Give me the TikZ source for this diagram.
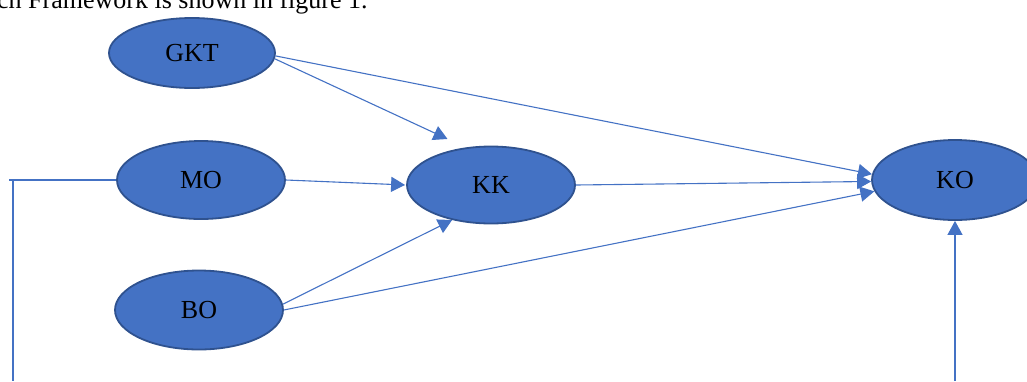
\documentclass[tikz,border=0pt]{standalone}
\usepackage{fontspec}
\setmainfont{Liberation Serif}
\usetikzlibrary{shapes.geometric,arrows.meta}
\definecolor{fillblue}{HTML}{4472C4}
\definecolor{edgeblue}{HTML}{2F528F}
\definecolor{lineblue}{HTML}{4472C4}
\begin{document}
\begin{tikzpicture}[x=1pt,y=-1pt,
  oval/.style={ellipse, fill=fillblue, draw=edgeblue, line width=1.8pt, inner sep=0pt,
    font=\fontsize{26}{30}\selectfont},
  conn/.style={draw=lineblue, line width=1.1pt},
  arr/.style={conn, -{Triangle[length=14pt,width=15pt]}}]
\useasboundingbox (0,0) rectangle (1027,381);
\begin{scope}
\clip (0,0) rectangle (1027,381);
\node[anchor=base west, inner sep=0pt, font=\fontsize{26}{30}\selectfont] (cap) at (-3,8) {ch Framework is shown in figure 1.};
\node[oval, minimum width=166pt, minimum height=70pt] (GKT) at (192,53) {GKT};
\node[oval, minimum width=168pt, minimum height=78pt] (MO) at (201,180) {MO};
\node[oval, minimum width=168pt, minimum height=77pt] (KK) at (491,185) {KK};
\node[oval, minimum width=166pt, minimum height=80pt] (KO) at (955,180) {KO};
\node[oval, minimum width=168pt, minimum height=79pt] (BO) at (199,310) {BO};
\coordinate (lft) at (9,180);
\coordinate (vtop) at (13,181);
\coordinate (vbot) at (13,381);
\coordinate (kob) at (955,381);
\end{scope}
\draw[arr, shorten >=20pt] (GKT.-4) -- (KK.124);
\draw[arr] (GKT.-2) -- (KO.176);
\draw[arr, shorten >=1pt] (MO.east) -- (KK.west);
\draw[arr] (KK.east) -- (KO.181);
\draw[arr] (BO.4) -- (KK.-138);
\draw[arr] (BO.0) -- (KO.188);
\draw[conn] (MO.west) -- (lft);
\draw[conn] (vtop) -- (vbot);
\draw[arr] (kob) -- (KO.south);
\end{tikzpicture}
\end{document}
